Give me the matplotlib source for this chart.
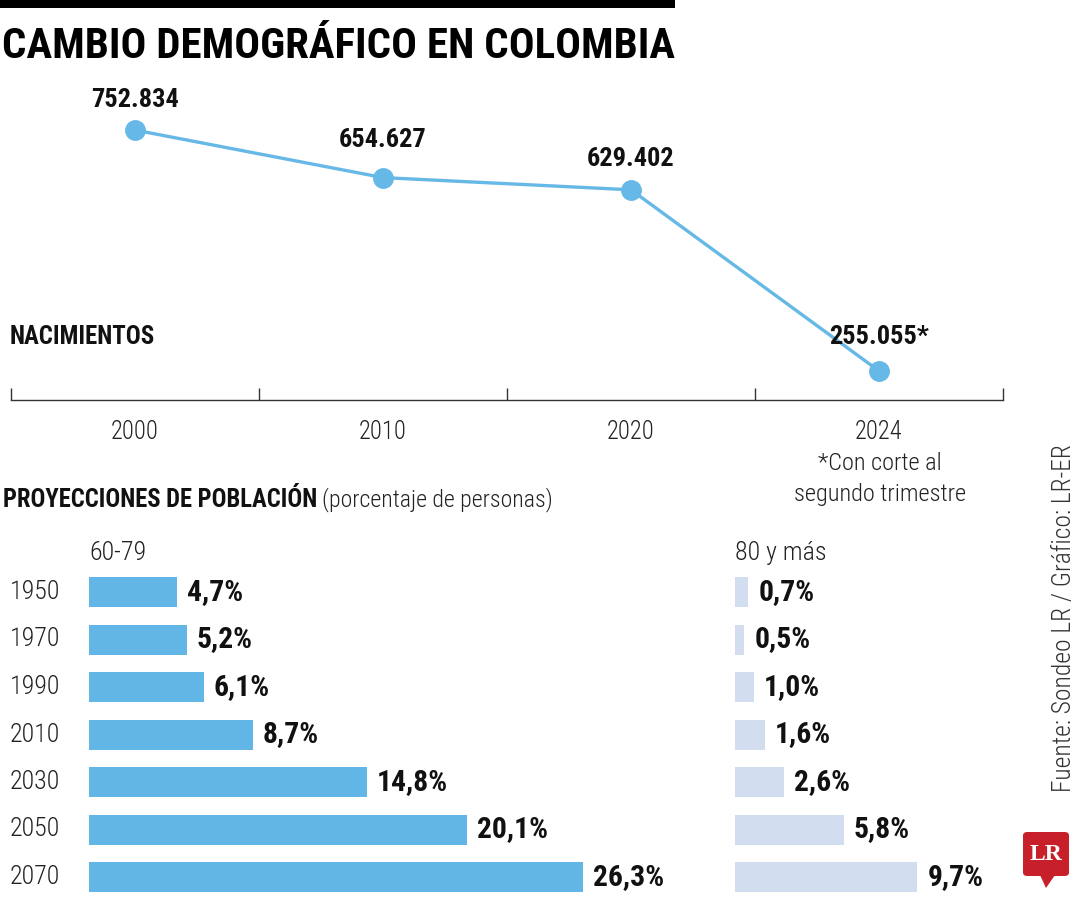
import matplotlib
matplotlib.use('Agg')
import matplotlib.pyplot as plt
from matplotlib.patches import FancyBboxPatch, Polygon
from matplotlib import font_manager
from matplotlib.font_manager import FontProperties
from matplotlib.textpath import TextPath

# data
birth_years = ['2000', '2010', '2020', '2024']
births = [752834, 654627, 629402, 255055]
birth_labels = ['752.834', '654.627', '629.402', '255.055*']

proj_years = ['1950', '1970', '1990', '2010', '2030', '2050', '2070']
age_60_79 = [4.7, 5.2, 6.1, 8.7, 14.8, 20.1, 26.3]
age_80_plus = [0.7, 0.5, 1.0, 1.6, 2.6, 5.8, 9.7]

LINE_C = '#66b8e6'
BAR1_C = '#62b6e6'
BAR2_C = '#d2ddf0'
INK = '#111111'
GREY = '#222222'

W, H = 1080, 900
DPI = 100

PREFS = ['Liberation Sans Narrow', 'Roboto Condensed', 'Open Sans Condensed',
         'Noto Sans Condensed', 'Lato Condensed']


def find_font(weights):
    for name in PREFS:
        for wt in weights:
            for f in font_manager.fontManager.ttflist:
                if f.name == name and f.weight == wt and f.style == 'normal':
                    return f.fname
    return None


def pick(bold):
    fn = find_font([700, 'bold']) if bold else find_font([300, 'light', 400, 'normal', 'regular'])
    if fn:
        return fn
    target = 'DejaVuSansCondensed-Bold.ttf' if bold else 'DejaVuSansCondensed.ttf'
    for f in font_manager.fontManager.ttflist:
        if f.fname.endswith(target):
            return f.fname
    return font_manager.findfont(FontProperties(family='DejaVu Sans',
                                                weight='bold' if bold else 'normal'))


REG = pick(False)
BOLD = pick(True)


def fp(bold, size):
    return FontProperties(fname=BOLD if bold else REG, size=size)


def fit(s, px, bold):
    # font size (pt) that makes the ink width of s about px pixels
    w = TextPath((0, 0), s, size=100, prop=fp(bold, 100)).get_extents().width
    return 100 * px / (w * DPI / 72)


fig = plt.figure(figsize=(W / DPI, H / DPI), dpi=DPI)


def box(x0, y0, x1, y1):
    return [x0 / W, 1 - y1 / H, (x1 - x0) / W, (y1 - y0) / H]


def ftext(x, y, s, bold=False, size=18, **kw):
    return fig.text(x / W, 1 - y / H, s, fontproperties=fp(bold, size), **kw)


s_title = fit('CAMBIO DEMOGRÁFICO EN COLOMBIA', 669, True)
s_pt = fit('752.834', 86, True)
s_tick = fit('2000', 45, False)
s_nac = fit('NACIMIENTOS', 143, True)
s_proj = fit('PROYECCIONES DE POBLACIÓN', 312, True)
s_pct = fit('(porcentaje de personas)', 226, False)
s_val = fit('4,7%', 54, True)
s_year = fit('1950', 47, False)
s_note = fit('segundo trimestre', 170, False)
s_src = fit('Fuente: Sondeo LR / Gráfico: LR-ER', 345, False)

# top bar and title
fig.add_artist(plt.Rectangle((0, 1 - 8 / H), 675 / W, 8 / H, transform=fig.transFigure,
                             color='black', lw=0))
ftext(2, 47, 'CAMBIO DEMOGRÁFICO EN COLOMBIA', True, s_title, va='center', ha='left',
      color='black')

# births line chart
ax = fig.add_axes(box(11, 100, 1003, 400))
xs = range(len(births))
ax.plot(xs, births, color=LINE_C, lw=2.4, marker='o', markersize=14,
        markerfacecolor=LINE_C, markeredgecolor=LINE_C, clip_on=False, zorder=3)
ax.set_xlim(-0.5, 3.5)
ax.set_ylim(195000, 815000)
for s in ['top', 'right', 'left']:
    ax.spines[s].set_visible(False)
ax.spines['bottom'].set_color('#333333')
ax.spines['bottom'].set_linewidth(1.0)
ax.set_yticks([])
ax.set_xticks([-0.5, 0.5, 1.5, 2.5, 3.5])
ax.set_xticklabels([])
ax.tick_params(axis='x', direction='in', length=9, color='#333333', width=1.0)
ax.patch.set_visible(False)
offs = [30, 38, 31, 34]
for i, (v, lab) in enumerate(zip(births, birth_labels)):
    ax.annotate(lab, (i, v), xytext=(0, offs[i] * 0.72), textcoords='offset points',
                ha='center', va='center', fontproperties=fp(True, s_pt), color=INK)
for i, yr in enumerate(birth_years):
    ax.annotate(yr, (i, 0), xycoords=('data', 'axes fraction'), xytext=(0, -32 * 0.72),
                textcoords='offset points', ha='center', va='center',
                fontproperties=fp(False, s_tick), color=GREY)
ftext(880, 479, '*Con corte al\nsegundo trimestre', False, s_note, ha='center',
      va='center', color=GREY, linespacing=1.4)
ftext(10, 337, 'NACIMIENTOS', True, s_nac, va='center', ha='left', color=INK)

# projections
ftext(3, 500, 'PROYECCIONES DE POBLACIÓN', True, s_proj, va='center', ha='left', color=INK)
ftext(322, 500, '(porcentaje de personas)', False, s_pct, va='center', ha='left', color=GREY)

PXPCT = 18.8
row_h = 47.5
top = 592 - row_h / 2
bot = top + row_h * len(proj_years)

ax1 = fig.add_axes(box(89, top, 700, bot))
ax2 = fig.add_axes(box(735, top, 1010, bot))
for a, vals, col, x0, x1 in [(ax1, age_60_79, BAR1_C, 89, 700),
                              (ax2, age_80_plus, BAR2_C, 735, 1010)]:
    ys = range(len(vals))
    a.barh(ys, vals, height=30 / row_h, color=col, lw=0)
    a.set_xlim(0, (x1 - x0) / PXPCT)
    a.set_ylim(len(vals) - 0.5, -0.5)
    a.axis('off')
    for i, v in enumerate(vals):
        a.annotate(f'{v:.1f}%'.replace('.', ','), (v, i), xytext=(10 * 0.72, 0),
                   textcoords='offset points', ha='left', va='center',
                   fontproperties=fp(True, s_val), color=INK)

ftext(89, 553, '60-79', False, s_year, ha='left', va='center', color=GREY)
ftext(735, 553, '80 y más', False, s_year, ha='left', va='center', color=GREY)
for i, yr in enumerate(proj_years):
    ftext(10, 592 + i * row_h, yr, False, s_year, ha='left', va='center', color=GREY)

# source
ftext(1064, 618, 'Fuente: Sondeo LR / Gráfico: LR-ER', False, s_src, rotation=90,
      ha='center', va='center', color='#333333')

# logo
logo_c = '#c8202a'
fig.add_artist(FancyBboxPatch((1023 / W, 1 - 876 / H), 46 / W, 44 / H,
                              boxstyle='round,pad=0,rounding_size=0.004',
                              transform=fig.transFigure, color=logo_c, lw=0))
fig.add_artist(Polygon([(1040 / W, 1 - 875 / H), (1055 / W, 1 - 875 / H),
                        (1046 / W, 1 - 888 / H)], closed=True,
                       transform=fig.transFigure, color=logo_c, lw=0))
fig.text(1046 / W, 1 - 854 / H, 'LR', fontsize=17, fontweight='bold',
         family='Liberation Serif', color='white', ha='center', va='center')

fig.savefig('out.png', dpi=DPI, facecolor='white')
